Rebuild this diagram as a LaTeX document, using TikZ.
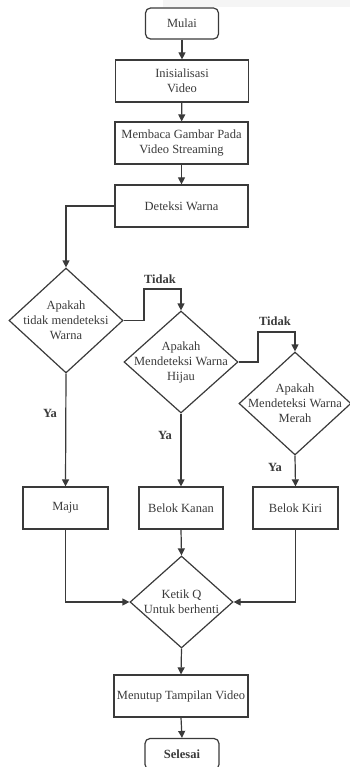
\documentclass[tikz,border=0pt]{standalone}
\usepackage{fontspec}
\setmainfont{Liberation Serif}
\usetikzlibrary{shapes.geometric,arrows.meta}
\definecolor{ln}{HTML}{3A3A3A}
\definecolor{tx}{HTML}{3A3A3A}
\begin{document}
\begin{tikzpicture}[x=1pt,y=-1pt,
  every node/.style={text=tx,font=\fontsize{12.5}{15}\selectfont},
  box/.style={draw=ln,line width=1.2pt,rectangle,minimum width=133pt,minimum height=42pt,inner sep=1pt,align=center},
  term/.style={draw=ln,line width=1.2pt,rectangle,rounded corners=5pt,minimum width=73pt,minimum height=31pt,inner sep=1pt,align=center},
  dia/.style={draw=ln,line width=1.2pt,diamond,inner sep=0pt,shape aspect=1},
  dtext/.style={align=center,inner sep=0pt},
  lbl/.style={font=\fontsize{12.5}{15}\selectfont\bfseries},
  arr/.style={draw=ln,line width=1.2pt,-{Triangle[length=7pt,width=7pt]}},
  ln/.style={draw=ln,line width=1.2pt}]
\useasboundingbox (0,0) rectangle (350,767);
\fill[black!4] (163,0) rectangle (350,7);

\node[term] (mulai) at (182,23.5) {Mulai};
\node[box] (init) at (182,81) {Inisialisasi\\Video};
\node[box] (baca) at (181.5,143) {Membaca Gambar Pada\\Video Streaming};
\node[box] (det) at (181.5,206) {Deteksi Warna};

\node[dia,minimum width=114pt,minimum height=105pt] (d1) at (66,320.5) {};
\node[dtext] (d1t) at (d1.center) {Apakah\\tidak mendeteksi\\Warna};
\node[dia,minimum width=114pt,minimum height=102pt] (d2) at (181,362) {};
\node[dtext] (d2t) at (d2.center) {Apakah\\Mendeteksi Warna\\Hijau};
\node[dia,minimum width=112pt,minimum height=103pt] (d3) at (295,403.5) {};
\node[dtext] (d3t) at (d3.center) {Apakah\\Mendeteksi Warna\\Merah};

\node[box,minimum width=85pt] (maju) at (65.5,508) {Maju};
\node[box,minimum width=84pt] (kanan) at (181,508) {Belok Kanan};
\node[box,minimum width=85pt] (kiri) at (295.5,508) {Belok Kiri};

\node[dia,minimum width=103pt,minimum height=92pt] (d4) at (181.5,602) {};
\node[dtext] (d4t) at (d4.center) {Ketik Q\\Untuk berhenti};

\node[box,minimum width=134pt] (tutup) at (181,696) {Menutup Tampilan Video};
\node[term,minimum width=74pt,font=\fontsize{12.5}{15}\selectfont\bfseries] (selesai) at (182,754) {Selesai};

\coordinate (t1) at (144,289);
\coordinate (t2) at (258,332);

\draw[arr] (mulai) -- (init);
\draw[arr] (init) -- (baca);
\draw[arr] (baca) -- (det);
\draw[arr] (det.west) -| (d1.north);
\draw[arr] (d1.east) -| (t1) -| (d2.north);
\draw[arr] (d2.east) -| (t2) -| (d3.north);
\draw[arr] (d1.south) -- (maju.north);
\draw[arr] (d2.south) -- (kanan.north);
\draw[arr] (d3.south) -- (kiri.north);
\draw[arr] (kanan.south) -- (d4.north);
\draw[arr] (maju.south) |- (d4.west);
\draw[arr] (kiri.south) |- (d4.east);
\draw[arr] (d4.south) -- (tutup.north);
\draw[arr] (tutup.south) -- (selesai.north);

\node[lbl] (tidak1) at (160,279) {Tidak};
\node[lbl] (tidak2) at (275,321) {Tidak};
\node[lbl] (ya1) at (50,413) {Ya};
\node[lbl] (ya2) at (165,435) {Ya};
\node[lbl] (ya3) at (275,467) {Ya};
\end{tikzpicture}
\end{document}
